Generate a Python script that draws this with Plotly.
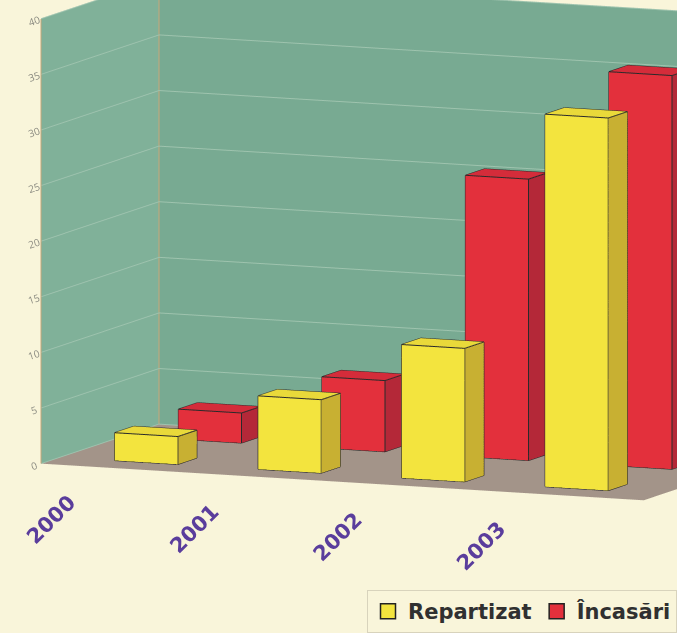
import plotly.graph_objects as go

years = ["2000", "2001", "2002", "2003"]
repartizat = [2.5, 6.6, 12.0, 33.5]
incasari = [2.7, 6.4, 25.3, 35.4]
series_names = ["Repartizat", "Încasări"]
z_ticks = [0, 5, 10, 15, 20, 25, 30, 35, 40]

front_cols = ["#f3e43e", "#e3303c"]
side_cols = ["#c8b032", "#b42838"]
top_cols = ["#e9d93a", "#d42c3a"]

HW, HD = 0.22, 0.15
X_RANGE = [-0.6, 3.6]
Y_RANGE = [-0.45, 1.4]
Z_RANGE = [0, 40]

fig = go.Figure()
ex, ey, ez = [], [], []

def add_box(xc, yc, h, fc, sc, tc):
    x0, x1 = xc - HW, xc + HW
    y0, y1 = yc - HD, yc + HD
    vx = [x0, x1, x1, x0, x0, x1, x1, x0]
    vy = [y0, y0, y1, y1, y0, y0, y1, y1]
    vz = [0, 0, 0, 0, h, h, h, h]
    tris = [(0, 1, 5), (0, 5, 4),   # front
            (1, 2, 6), (1, 6, 5),   # right
            (4, 5, 6), (4, 6, 7),   # top
            (2, 3, 7), (2, 7, 6),   # back
            (3, 0, 4), (3, 4, 7),   # left
            (0, 2, 1), (0, 3, 2)]   # bottom
    cols = [fc, fc, sc, sc, tc, tc, sc, sc, sc, sc, sc, sc]
    fig.add_trace(go.Mesh3d(
        x=vx, y=vy, z=vz,
        i=[t[0] for t in tris], j=[t[1] for t in tris], k=[t[2] for t in tris],
        facecolor=cols, flatshading=True,
        lighting=dict(ambient=1, diffuse=0, specular=0, roughness=1, fresnel=0),
        hoverinfo="skip", showlegend=False, showscale=False))
    edges = [(0, 1), (1, 2), (2, 3), (3, 0), (4, 5), (5, 6), (6, 7), (7, 4),
             (0, 4), (1, 5), (2, 6), (3, 7)]
    for a, b in edges:
        ex.extend([vx[a], vx[b], None])
        ey.extend([vy[a], vy[b], None])
        ez.extend([vz[a], vz[b], None])

for s, vals in enumerate([repartizat, incasari]):
    for i, v in enumerate(vals):
        add_box(i, s, v, front_cols[s], side_cols[s], top_cols[s])

fig.add_trace(go.Scatter3d(x=ex, y=ey, z=ez, mode="lines",
                           line=dict(color="#2a2a2a", width=2),
                           hoverinfo="skip", showlegend=False))

# wall edge lines (back-left corner and front edge of the left wall)
for yy in Y_RANGE:
    fig.add_trace(go.Scatter3d(x=[X_RANGE[0], X_RANGE[0]], y=[yy, yy], z=Z_RANGE,
                               mode="lines", line=dict(color="#c9a77a", width=2),
                               hoverinfo="skip", showlegend=False))

# legend entries
for s, name in enumerate(series_names):
    fig.add_trace(go.Scatter(x=[None], y=[None], mode="markers", name=name,
                             marker=dict(symbol="square", size=15, color=front_cols[s],
                                         line=dict(color="#222", width=1.5))))

annotations = []
for i, yr in enumerate(years):
    annotations.append(dict(x=i - HW - 0.09, y=Y_RANGE[0], z=0, text="<b>%s</b>" % yr,
                            showarrow=False, textangle=-45, yshift=-22,
                            font=dict(size=21, color="#5a3d9c",
                                      family="DejaVu Sans, Arial"),
                            xanchor="right", yanchor="top"))

fig.update_layout(
    width=677, height=633,
    paper_bgcolor="#f9f5da", plot_bgcolor="rgba(0,0,0,0)",
    margin=dict(l=0, r=0, t=0, b=0),
    xaxis=dict(visible=False), yaxis=dict(visible=False),
    showlegend=True,
    legend=dict(orientation="h", x=1.0, xanchor="right", y=0.0, yanchor="bottom",
                font=dict(size=21, color="#303030", family="DejaVu Sans, Arial",
                          weight="bold"),
                bgcolor="#f9f5da", bordercolor="#d8d3bc", borderwidth=1,
                itemwidth=30),
    scene=dict(
        domain=dict(x=[0, 1], y=[0, 1]),
        xaxis=dict(range=X_RANGE, showgrid=False, showticklabels=False, title="",
                   showbackground=True, backgroundcolor="#80b199", zeroline=False,
                   showline=False, showspikes=False),
        yaxis=dict(range=Y_RANGE, showgrid=False, showticklabels=False, title="",
                   showbackground=True, backgroundcolor="#78aa92", zeroline=False,
                   showline=False, showspikes=False),
        zaxis=dict(range=Z_RANGE, tickvals=z_ticks, title="", showgrid=True,
                   gridcolor="#9ec3ae", showbackground=True, backgroundcolor="#a39489",
                   tickfont=dict(size=11, color="#8a8a80"), zeroline=False,
                   showline=False, showspikes=False),
        aspectmode="manual", aspectratio=dict(x=2.07, y=0.95, z=1.42),
        camera=dict(eye=dict(x=0.769, y=-2.31, z=0.105),
                    center=dict(x=-0.183, y=-0.077, z=-0.245),
                    up=dict(x=0, y=0, z=1), projection=dict(type="orthographic")),
        annotations=annotations,
    ),
)

fig.write_html("out.html", config={"displayModeBar": False},
               post_script="document.body.style.margin='0';")
